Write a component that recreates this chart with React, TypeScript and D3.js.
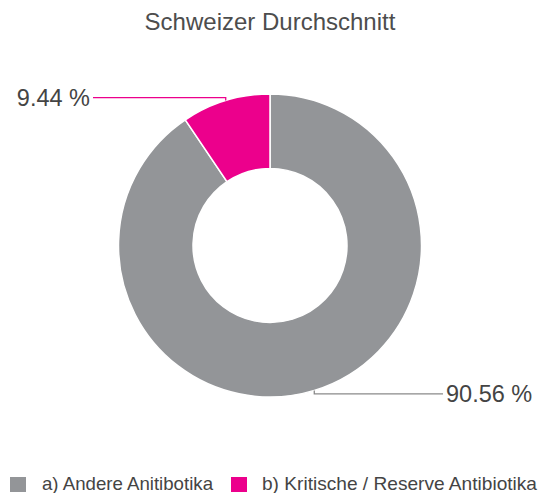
import React from "react";
import * as d3 from "d3";

const categories = ["a) Andere Anitibotika", "b) Kritische / Reserve Antibiotika"];
const values = [90.56, 9.44];
const labels = ["90.56 %", "9.44 %"];
const colors = ["#939598", "#EC008C"];
const title = "Schweizer Durchschnitt";

const W = 547;
const H = 493;
const cx = 270;
const cy = 245.5;
const rOuter = 151.5;
const rInner = 77;
const font = "'Liberation Sans', Arial, sans-serif";

export default function App() {
  const pie = d3.pie<number>().sort(null).value((d) => d)(values);
  const arc = d3.arc<d3.PieArcDatum<number>>().innerRadius(rInner).outerRadius(rOuter);

  const leaders = pie.map((p, i) => {
    const mid = (p.startAngle + p.endAngle) / 2;
    const x0 = Math.sin(mid) * rOuter;
    const y0 = -Math.cos(mid) * rOuter;
    const right = x0 > 0;
    const y1 = right ? y0 + 3.5 : y0 - 3;
    const xEnd = right ? 173 : -177;
    return { x0, y0, y1, xEnd, right, i };
  });

  const legendItems = [
    { x: 10, tx: 42, tl: 171 },
    { x: 231, tx: 262, tl: 275 },
  ];

  return (
    <svg
      width={W}
      height={H}
      style={{ position: "absolute", left: 0, top: 0, background: "#fff" }}
      fontFamily={font}
    >
      <text x={cx} y={30} textAnchor="middle" fontSize={24} fill="#4d4d4d">
        {title}
      </text>
      <g transform={`translate(${cx},${cy})`}>
        {pie.map((p, i) => (
          <path key={i} d={arc(p) || ""} fill={colors[i]} stroke="#fff" strokeWidth={1.5} />
        ))}
        {leaders.map((l) => (
          <g key={l.i}>
            <polyline
              points={`${l.x0},${l.y0} ${l.x0},${l.y1} ${l.xEnd},${l.y1}`}
              fill="none"
              stroke={l.right ? "#8a8a8a" : colors[l.i]}
              strokeWidth={1.3}
            />
            <text
              x={l.right ? l.xEnd + 3 : l.xEnd - 3}
              y={l.y1}
              dy="0.35em"
              textAnchor={l.right ? "start" : "end"}
              fontSize={23.5}
              fill="#444"
            >
              {labels[l.i]}
            </text>
          </g>
        ))}
      </g>
      {categories.map((c, i) => (
        <g key={c}>
          <rect x={legendItems[i].x} y={477} width={16} height={15} fill={colors[i]} />
          <text
            x={legendItems[i].tx}
            y={490}
            fontSize={18.5}
            fill="#444"
            textLength={legendItems[i].tl}
            lengthAdjust="spacingAndGlyphs"
          >
            {c}
          </text>
        </g>
      ))}
    </svg>
  );
}
